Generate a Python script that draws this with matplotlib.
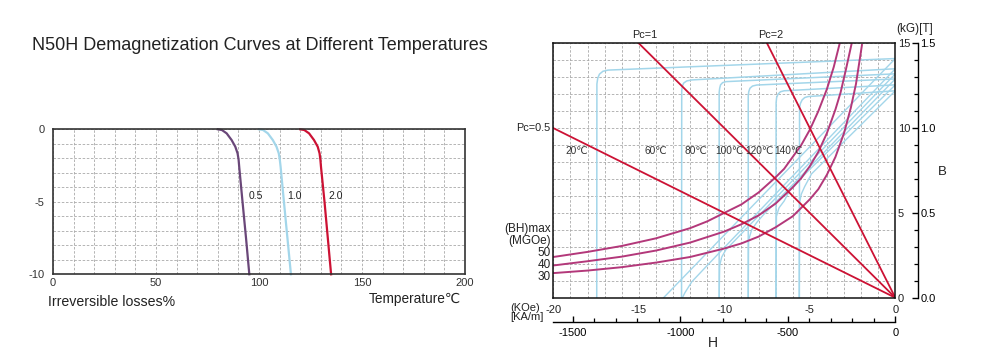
"""N50H demagnetization curves: irreversible losses vs temperature + B-H curves."""
import matplotlib
matplotlib.use("Agg")
import matplotlib.pyplot as plt
from matplotlib.ticker import MultipleLocator, FixedLocator

plt.rcParams["font.family"] = ["Liberation Sans", "DejaVu Sans"]
plt.rcParams["axes.unicode_minus"] = False

W, H_PX = 984, 362

# ---- left panel: irreversible losses (%) vs temperature (C) ----
loss_pct = [0, -0.05, -0.28, -0.74, -1.2, -1.66, -2.1, -2.6, -5.0, -7.5, -10]
temp_pc05 = [80, 82, 84.3, 86.7, 88.5, 89.6, 90.1, 90.4, 92.0, 93.7, 95.3]
temp_pc10 = [100, 102, 104.3, 106.7, 108.5, 109.6, 110.1, 110.5, 112.1, 113.8, 115.5]
temp_pc20 = [120, 122, 124.3, 126.7, 128.5, 129.4, 129.8, 130.1, 131.8, 133.4, 135]
loss_labels = ["0.5", "1.0", "2.0"]
loss_label_x = [94.8, 113.6, 133.5]

# ---- right panel: B-H curves (H in kOe, B in kG) ----
temps = ["20℃", "60℃", "80℃", "100℃", "120℃", "140℃"]
temp_label_h = [-18.6, -13.98, -11.64, -9.70, -7.96, -6.26]

# intrinsic (J-H) curves
j_h = [
    [0, -16.8, -17.1, -17.3, -17.4, -17.45, -17.46],
    [0, -11.9, -12.2, -12.38, -12.46, -12.49, -12.5],
    [0, -9.9, -10.1, -10.22, -10.27, -10.3, -10.3],
    [0, -8.1, -8.35, -8.5, -8.57, -8.6, -8.6],
    [0, -6.5, -6.72, -6.86, -6.94, -6.97, -6.98],
    [0, -5.1, -5.3, -5.45, -5.55, -5.6, -5.61],
]
j_b = [
    [14.1, 13.42, 13.35, 13.18, 12.95, 12.6, 0],
    [13.5, 12.84, 12.78, 12.65, 12.45, 12.2, 0],
    [13.2, 12.74, 12.68, 12.55, 12.35, 12.1, 0],
    [12.9, 12.54, 12.48, 12.35, 12.15, 11.9, 0],
    [12.55, 12.2, 12.14, 12.0, 11.8, 11.5, 0],
    [12.2, 11.86, 11.8, 11.66, 11.45, 11.2, 0],
]
# normal (B-H) curves
n_h = [
    [0, -13.55],
    [0, -11.0, -11.9, -12.3, -12.45],
    [0, -9.5, -9.9, -10.15, -10.27, -10.3],
    [0, -7.7, -8.1, -8.4, -8.58, -8.6],
    [0, -6.1, -6.5, -6.8, -6.95, -6.98],
    [0, -4.9, -5.3, -5.5, -5.6, -5.62],
]
n_b = [
    [14.1, 0],
    [13.5, 1.9, 0.94, 0.3, 0],
    [13.2, 3.25, 2.84, 2.4, 1.9, 0],
    [12.9, 4.9, 4.44, 4.0, 3.4, 0],
    [12.55, 6.47, 5.7, 5.3, 4.8, 0],
    [12.2, 7.3, 6.55, 6.1, 5.6, 0],
]

# (BH)max contours
bh_names = ["50", "40", "30"]
bh_h = [
    [-20, -18, -16, -14, -12, -11, -10, -9, -8, -7, -6.5, -6, -5.5, -5, -4.5, -4, -3.6, -3.25],
    [-20, -18, -16, -14, -12, -10, -9, -8, -7, -6, -5.5, -5, -4.5, -4, -3.5, -3.2, -2.9, -2.55],
    [-20, -18, -16, -14, -12, -10, -9, -8, -7, -6, -5, -4.5, -4, -3.5, -3, -2.6, -2.3, -1.95],
]
bh_b = [
    [2.4, 2.7, 3.05, 3.5, 4.1, 4.5, 5.0, 5.5, 6.2, 7.1, 7.6, 8.3, 9.0, 9.9, 11.0, 12.3, 13.6, 15.0],
    [1.9, 2.15, 2.42, 2.78, 3.25, 3.9, 4.33, 4.85, 5.55, 6.5, 7.05, 7.75, 8.6, 9.7, 11.1, 12.1, 13.4, 15.0],
    [1.45, 1.6, 1.8, 2.07, 2.4, 2.9, 3.2, 3.6, 4.15, 4.8, 5.8, 6.4, 7.25, 8.3, 9.7, 11.2, 12.6, 14.9],
]

# load lines Pc = B/|H|
pc_names = ["Pc=0.5", "Pc=1", "Pc=2"]
pc_h = [[0, -20], [0, -15], [0, -7.5]]
pc_b = [[0, 10], [0, 15], [0, 15]]

KAM_PER_KOE = 79.5775

C_PURPLE = "#6a4779"
C_LBLUE = "#a3d6ea"
C_RED = "#cc1234"
C_MAG = "#b3387a"
C_GRID = "#a8a8a8"
C_TXT = "#222222"
GRID_KW = dict(color=C_GRID, linewidth=0.6, linestyle=(0, (3, 2)))


def px_box(x0, y0, x1, y1):
    return [x0 / W, 1 - y1 / H_PX, (x1 - x0) / W, (y1 - y0) / H_PX]


fig = plt.figure(figsize=(W / 100, H_PX / 100), dpi=100)

# ================= left panel =================
axl = fig.add_axes(px_box(53, 129.3, 465, 274.3))
axl.set_xlim(0, 200)
axl.set_ylim(-10, 0)
axl.xaxis.set_major_locator(MultipleLocator(50))
axl.xaxis.set_minor_locator(MultipleLocator(10))
axl.yaxis.set_major_locator(MultipleLocator(5))
axl.yaxis.set_minor_locator(MultipleLocator(1))
axl.grid(True, which="both", **GRID_KW)
axl.set_axisbelow(True)
axl.tick_params(which="both", length=0, labelsize=8, colors="#333333")
axl.tick_params(axis="x", pad=3)
axl.tick_params(axis="y", pad=6)
for s in axl.spines.values():
    s.set_color("#333333")
    s.set_linewidth(1.2)

for temps_x, col in zip([temp_pc05, temp_pc10, temp_pc20], [C_PURPLE, C_LBLUE, C_RED]):
    axl.plot(temps_x, loss_pct, color=col, linewidth=1.6, clip_on=False)
for lab, x in zip(loss_labels, loss_label_x):
    axl.text(x, -4.6, lab, fontsize=7.5, ha="left", va="center", color=C_TXT)

fig.text(32 / W, 1 - 45 / H_PX, "N50H Demagnetization Curves at Different Temperatures",
         fontsize=13, ha="left", va="center", color=C_TXT)
fig.text(48 / W, 1 - 301.5 / H_PX, "Irreversible losses%", fontsize=10.2,
         ha="left", va="center", color=C_TXT)
fig.text(461 / W, 1 - 299.5 / H_PX, "Temperature℃", fontsize=9.8,
         ha="right", va="center", color=C_TXT)

# ================= right panel =================
ax = fig.add_axes(px_box(553.3, 43.3, 895.3, 297.7))
ax.set_xlim(-20, 0)
ax.set_ylim(0, 15)
ax.xaxis.set_major_locator(MultipleLocator(5))
ax.xaxis.set_minor_locator(MultipleLocator(1))
ax.yaxis.set_major_locator(MultipleLocator(5))
ax.yaxis.set_minor_locator(MultipleLocator(1))
ax.grid(True, which="both", **GRID_KW)
ax.set_axisbelow(True)
ax.xaxis.set_major_formatter(lambda v, p: f"{v:.0f}")
for s in ax.spines.values():
    s.set_color("#111111")
    s.set_linewidth(1.1)

for hh, bb in zip(j_h, j_b):
    ax.plot(hh, bb, color=C_LBLUE, linewidth=1.1)
for hh, bb in zip(n_h, n_b):
    ax.plot(hh, bb, color=C_LBLUE, linewidth=1.0)
for hh, bb in zip(bh_h, bh_b):
    ax.plot(hh, bb, color=C_MAG, linewidth=1.4)
for hh, bb in zip(pc_h, pc_b):
    ax.plot(hh, bb, color=C_RED, linewidth=1.3)

for lab, x in zip(temps, temp_label_h):
    ax.text(x, 8.67, lab, fontsize=7.3, ha="center", va="center", color="#333333")

ax.text(-20.15, 10.0, pc_names[0], fontsize=7.8, ha="right", va="center", color=C_TXT)
ax.text(-14.65, 15.5, pc_names[1], fontsize=7.8, ha="center", va="center", color=C_TXT)
ax.text(-7.27, 15.5, pc_names[2], fontsize=7.8, ha="center", va="center", color=C_TXT)

bh_lab_y = [2.65, 1.95, 1.24]
ax.text(-20.12, 4.03, "(BH)max", fontsize=8.5, ha="right", va="center", color=C_TXT)
ax.text(-20.12, 3.36, "(MGOe)", fontsize=8.5, ha="right", va="center", color=C_TXT)
for lab, y in zip(bh_names, bh_lab_y):
    ax.text(-20.15, y, lab, fontsize=8.5, ha="right", va="center", color=C_TXT)

# Tesla scale on the right
axt = ax.twinx()
axt.set_ylim(0, 1.5)
axt.spines["right"].set_position(("outward", 16.1))
for side in ["left", "top", "bottom"]:
    axt.spines[side].set_visible(False)
axt.spines["right"].set_linewidth(1.0)
axt.yaxis.set_major_locator(FixedLocator([0, 0.5, 1.0, 1.5]))
axt.yaxis.set_minor_locator(MultipleLocator(0.1))
axt.yaxis.set_major_formatter(lambda v, p: f"{v:.1f}")
axt.tick_params(which="major", direction="in", length=4.5, width=1.0, labelsize=8, pad=2)
axt.tick_params(which="minor", direction="in", length=3, width=0.9)

# kA/m scale under H
axk = ax.twiny()
axk.set_xlim(-20 * KAM_PER_KOE, 0)
axk.xaxis.set_ticks_position("bottom")
axk.xaxis.set_label_position("bottom")
axk.spines["bottom"].set_position(("outward", 17.7))
for side in ["left", "top", "right"]:
    axk.spines[side].set_visible(False)
axk.spines["bottom"].set_linewidth(1.0)
axk.xaxis.set_major_locator(FixedLocator([-1500, -1000, -500, 0]))
axk.xaxis.set_minor_locator(MultipleLocator(100))
axk.xaxis.set_major_formatter(lambda v, p: f"{v:.0f}")
axk.tick_params(which="major", direction="in", length=4.5, width=1.0, labelsize=8, pad=4)
axk.tick_params(which="minor", direction="in", length=3, width=0.9)

# twinx moved the kG labels to the left; put them back on the right
ax.yaxis.tick_right()
ax.tick_params(which="both", length=0, labelsize=8, colors=C_TXT)
ax.tick_params(axis="x", pad=5)
ax.tick_params(axis="y", pad=2)

fig.text(915 / W, 1 - 29.3 / H_PX, "(kG)[T]", fontsize=8.5, ha="center", va="center", color=C_TXT)
fig.text(942 / W, 1 - 172 / H_PX, "B", fontsize=9.5, ha="center", va="center", color=C_TXT)
fig.text(712.7 / W, 1 - 343.3 / H_PX, "H", fontsize=10, ha="center", va="center", color=C_TXT)
fig.text(510 / W, 1 - 308 / H_PX, "(KOe)", fontsize=8, ha="left", va="center", color=C_TXT)
fig.text(510 / W, 1 - 316.7 / H_PX, "[KA/m]", fontsize=8, ha="left", va="center", color=C_TXT)

fig.savefig("out.png", dpi=100)
